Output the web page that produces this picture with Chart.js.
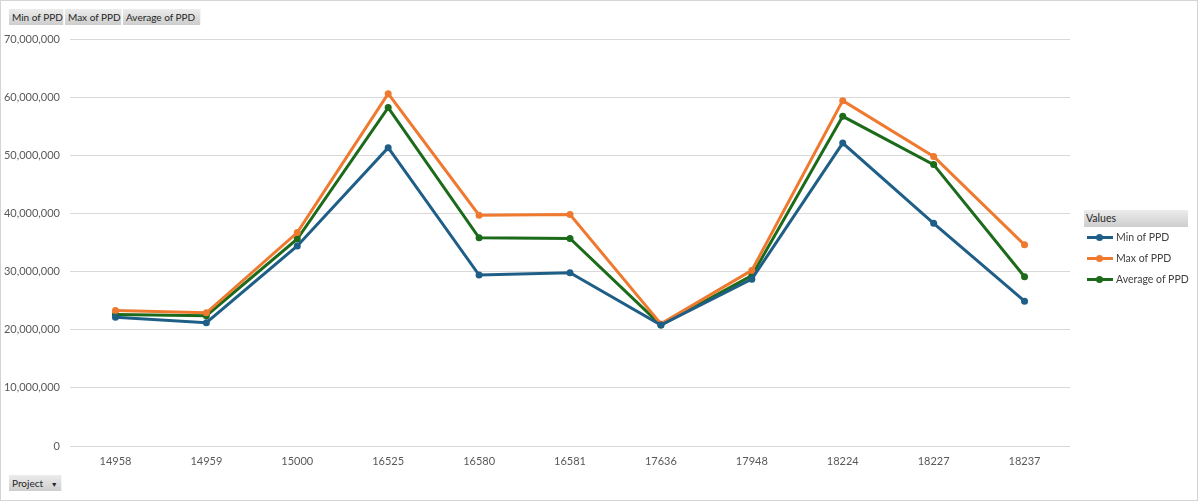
<!DOCTYPE html>
<html>
<head>
<meta charset="utf-8">
<script src="https://cdn.jsdelivr.net/npm/chart.js@4.4.1/dist/chart.umd.min.js"></script>
<style>
  html, body { margin: 0; padding: 0; background: #ffffff; }
  #wrap { position: relative; width: 1198px; height: 501px; overflow: hidden; font-family: Lato, "Liberation Sans", Arial, sans-serif; }
  #c { position: absolute; left: 0; top: 0; }
  #frame { position: absolute; left: 0; top: 0; width: 1198px; height: 501px; box-sizing: border-box; border: 1px solid #d4d4d4; pointer-events: none; }
  .btn { position: absolute; height: 16px; line-height: 16px; font-size: 10px; color: #262626; padding: 0 3px; box-sizing: border-box; overflow: hidden;
         background: linear-gradient(#ececec, #cdcdcd); border-right: 1px solid #f4f4f4; white-space: nowrap; }
  #legend { position: absolute; left: 1084px; top: 210px; width: 104px; }
  #legend .head { height: 17px; line-height: 17px; font-size: 10.5px; color: #262626; padding-left: 2px;
         background: linear-gradient(#ececec, #cdcdcd); }
  #legend .item { position: relative; height: 21px; line-height: 21px; font-size: 10.5px; color: #404040; padding-left: 32px; white-space: nowrap; }
  #legend .line { position: absolute; left: 3px; top: 9px; width: 26px; height: 3px; }
  #legend .dot { position: absolute; left: 12px; top: 7px; width: 7px; height: 7px; border-radius: 50%; }
</style>
</head>
<body>
<div id="wrap">
  <canvas id="c" width="1198" height="501"></canvas>
  <div class="btn" style="left:9px; top:9px; width:55px;">Min of PPD</div>
  <div class="btn" style="left:65px; top:9px; width:57px;">Max of PPD</div>
  <div class="btn" style="left:123px; top:9px; width:78px;">Average of PPD</div>
  <div class="btn" style="left:9px; top:475px; width:53px;">Project&nbsp;&nbsp;&nbsp;<span style="font-size:7px;">&#9660;</span></div>
  <div id="legend"><div class="head">Values</div></div>
  <div id="frame"></div>
</div>
<script>
const categories = ["14958", "14959", "15000", "16525", "16580", "16581", "17636", "17948", "18224", "18227", "18237"];
const minPPD = [22150000, 21200000, 34400000, 51300000, 29400000, 29800000, 20800000, 28700000, 52100000, 38300000, 24900000];
const maxPPD = [23300000, 22900000, 36700000, 60600000, 39700000, 39800000, 21000000, 30200000, 59400000, 49800000, 34600000];
const avgPPD = [22600000, 22400000, 35600000, 58200000, 35800000, 35700000, 20800000, 29300000, 56700000, 48400000, 29100000];
const seriesNames = ["Min of PPD", "Max of PPD", "Average of PPD"];
const seriesColors = ["#1f5f87", "#ef7a2f", "#1b6b1b"];
const yMax = 70000000;
const yStep = 10000000;

const values = [minPPD, maxPPD, avgPPD];
const datasets = values.map((v, i) => ({
  label: seriesNames[i],
  data: v,
  borderColor: seriesColors[i],
  backgroundColor: seriesColors[i],
  borderWidth: 3,
  pointRadius: 3.5,
  pointBorderWidth: 0,
  pointHoverRadius: 3.5,
  tension: 0
}));

const tickFont = { family: 'Lato', size: 11 };

const chart = new Chart(document.getElementById('c'), {
  type: 'line',
  data: { labels: categories, datasets: datasets },
  options: {
    responsive: false,
    animation: false,
    events: [],
    layout: { padding: { left: 0, right: 128, top: 39, bottom: 0 } },
    plugins: { legend: { display: false }, tooltip: { enabled: false } },
    scales: {
      x: {
        offset: true,
        grid: { display: false, drawTicks: false },
        border: { display: false },
        ticks: { color: '#595959', font: tickFont, padding: 9, maxRotation: 0 },
        afterFit: (s) => { s.height = 55; }
      },
      y: {
        min: 0, max: yMax,
        grid: { color: '#d9d9d9', lineWidth: 1, drawTicks: false },
        border: { display: false },
        ticks: { stepSize: yStep, color: '#595959', font: tickFont, padding: 10,
                 callback: (v) => Number(v).toLocaleString('en-US') },
        afterFit: (s) => { s.width = 70; }
      }
    }
  }
});

const legend = document.getElementById('legend');
chart.data.datasets.forEach(ds => {
  const it = document.createElement('div');
  it.className = 'item';
  it.innerHTML = '<span class="line" style="background:' + ds.borderColor + '"></span><span class="dot" style="background:' + ds.borderColor + '"></span>' + ds.label;
  legend.appendChild(it);
});
</script>
</body>
</html>
